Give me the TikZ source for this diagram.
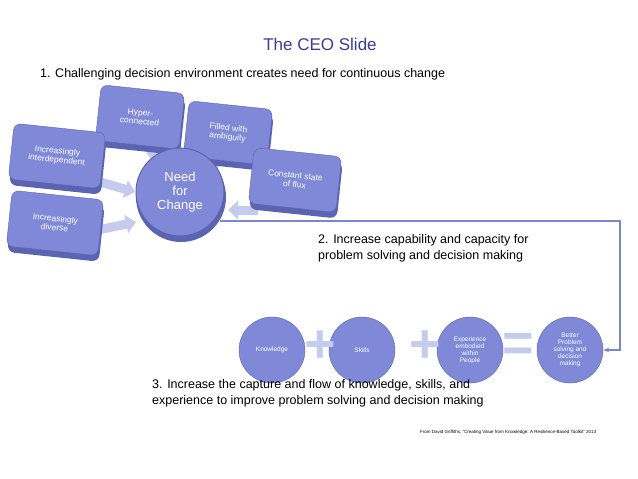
\documentclass[tikz,border=0pt]{standalone}
\usepackage{fontspec}
\setmainfont{Liberation Sans}
\usetikzlibrary{arrows.meta,shapes.geometric}
\definecolor{boxc}{HTML}{7F89D8}
\definecolor{boxd}{HTML}{5A64B0}
\definecolor{arrc}{HTML}{C3CBEF}
\definecolor{titlec}{HTML}{3B3B98}
\definecolor{linec}{HTML}{7C86D0}
\tikzset{
 bx/.style={draw=boxd,fill=boxc,rounded corners=7pt,minimum width=84pt,minimum height=56pt,text=white,font=\fontsize{8.5}{9}\selectfont,align=center,rotate=-6},
 bxs/.style={bx,fill=boxd,draw=none},
 cir/.style={circle,draw=boxd,fill=boxc,minimum size=66pt,text=white,font=\fontsize{6.5}{7}\selectfont,align=center,inner sep=1pt},
 fat/.style={-{Triangle[length=10pt,width=18pt]},line width=9pt,arrc},
 ptxt/.style={font=\fontsize{12.5}{16}\selectfont,align=left,anchor=north west,inner sep=0pt},
 sym/.style={font=\fontsize{54}{54}\selectfont\bfseries,text=arrc}
}
\begin{document}
\begin{tikzpicture}[x=1pt,y=-1pt]
\useasboundingbox (0,0) rectangle (638,479);
\fill[white] (0,0) rectangle (638,479);
\node[font=\fontsize{17}{20}\selectfont,text=titlec] (title) at (320,44) {The CEO Slide};
\node[ptxt] (t1) at (40,68) {1. Challenging decision environment creates need for continuous change};
\draw[fat] (150,150) -- (163,168);
\draw[fat] (220,160) -- (205,172);
\draw[fat] (100,182) -- (135,192);
\draw[fat] (258,210) -- (228,210);
\draw[fat] (98,230) -- (136,222);
\node[bxs] at (141,123) {};
\node[bx] (hyper) at (140,117) {Hyper-\\connected};
\node[bxs] at (229,139) {};
\node[bx] (filled) at (228,133) {Filled with\\ambiguity};
\node[bxs,minimum width=92pt] at (58,162) {};
\node[bx,minimum width=92pt] (inter) at (57,156) {Increasingly\\interdependent};
\node[bxs,minimum width=88pt] at (296,186) {};
\node[bx,minimum width=88pt] (flux) at (295,180) {Constant state\\of flux};
\node[bxs,minimum width=92pt] at (56,229) {};
\node[bx,minimum width=92pt] (diverse) at (55,223) {Increasingly\\diverse};
\node[circle,fill=boxd,minimum size=90pt] at (181,197) {};
\node[cir,minimum size=88pt,font=\fontsize{13}{14}\selectfont,line width=1pt] (need) at (180,192) {Need\\for\\Change};
\coordinate (c0) at (220,221);
\coordinate (c1) at (620,221);
\coordinate (c2) at (620,350);
\node[ptxt] (t2) at (318,234) {2. Increase capability and capacity for\\problem solving and decision making};
\node[cir] (know) at (272,350) {Knowledge};
\node[cir] (skills) at (362,350) {Skills};
\node[cir] (exp) at (470,350) {Experience\\embodied\\within\\People};
\node[cir] (better) at (570,350) {Better\\Problem\\solving and\\decision\\making};
\draw[linec,line width=1.5pt,-{Stealth[length=6pt]}] (c0) -- (c1) -- (c2) -- (better.east);
\node[sym] (p1) at (320,347) {+};
\node[sym] (p2) at (425,347) {+};
\node[sym] (eq) at (518,347) {=};
\node[ptxt] (t3) at (152,379) {3. Increase the capture and flow of knowledge, skills, and\\experience to improve problem solving and decision making};
\node[font=\fontsize{4.5}{5}\selectfont,anchor=west,inner sep=0pt] (src) at (420,432) {From David Griffiths, “Creating Value from Knowledge: A Resilience-Based Toolkit” 2013};
\end{tikzpicture}
\end{document}
